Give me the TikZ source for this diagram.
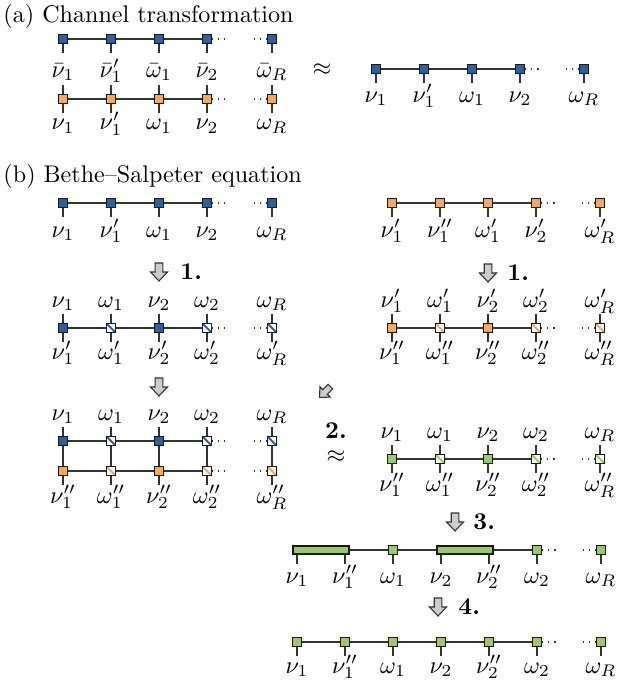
\documentclass[tikz,border=0pt]{standalone}
\usepackage{amsmath}
\definecolor{cblue}{RGB}{47,96,158}
\definecolor{corange}{RGB}{244,168,88}
\definecolor{cgreen}{RGB}{152,203,104}
\tikzset{
 sq/.style={rectangle, draw=black!90, line width=0.55pt, minimum size=3.8pt, inner sep=0pt},
 bsq/.style={sq, fill=cblue},
 osq/.style={sq, fill=corange},
 gsq/.style={sq, fill=cgreen},
 wsq/.style={sq, fill=white, path picture={\draw[#1, line width=0.8pt] ([shift={(0.3pt,-0.3pt)}]path picture bounding box.north west) -- ([shift={(-0.3pt,0.3pt)}]path picture bounding box.south east);}},
 wb/.style={wsq=cblue}, wo/.style={wsq=corange}, wg/.style={wsq=cgreen},
 ln/.style={draw=black!80, line width=0.5pt},
 dts/.style={ln, dotted},
 lbl/.style={anchor=base, inner sep=0pt},
 num/.style={anchor=base west, inner sep=0pt, font=\bfseries},
 gbar/.style={rectangle, draw=black!90, line width=0.55pt, fill=cgreen, inner sep=0pt, minimum height=3.2pt, minimum width=23.2pt},
 pics/darr/.style={code={\draw[fill=black!20, draw=black!80, line width=0.45pt] (-3.8,-9) -- (3.8,-9) -- (3.8,0) -- (8.5,0) -- (0,9) -- (-8.5,0) -- (-3.8,0) -- cycle;}},
}
\newcommand\mysqrow[3]{\foreach \x/\s [count=\i] in {#3} {\node[\s] (#1\i) at (\x,#2) {};}}
\newcommand\mylbrow[3]{\foreach \x/\t [count=\i] in {#3} {\node[lbl] (#1\i) at (\x,#2) {$\t$};}}
\newcommand\mytickdn[2]{\foreach \i in {1,...,#2} {\draw[ln] (#1\i.south) -- ++(0,9);}}
\newcommand\mytickup[2]{\foreach \i in {1,...,#2} {\draw[ln] (#1\i.north) -- ++(0,-9);}}
\newcommand\mychainfive[1]{\draw[ln] (#11) -- (#12) -- (#13) -- (#14);
 \draw[dts] (#14.east) -- ++(15,0); \draw[dts] (#15.west) -- ++(-15,0);}
\begin{document}
\begin{tikzpicture}[x=0.415pt,y=-0.415pt]
\useasboundingbox (0,0) rectangle (619,683);

% ---------------- (a)
\node[anchor=base west, inner sep=0pt] (ta) at (3,23) {(a) Channel transformation};
\mysqrow{ab}{39}{63/bsq,111/bsq,159/bsq,207/bsq,272/bsq}
\mychainfive{ab}
\mytickdn{ab}{5}
\mylbrow{abl}{77}{63/{\bar\nu_1},111/{\bar\nu'_1},159/{\bar\omega_1},207/{\bar\nu_2},272/{\bar\omega_R}}
\mysqrow{ao}{99}{63/osq,111/osq,159/osq,207/osq,272/osq}
\mychainfive{ao}
\mytickdn{ao}{5}
\mytickup{ao}{5}
\mylbrow{aol}{130}{63/{\nu_1},111/{\nu'_1},159/{\omega_1},207/{\nu_2},272/{\omega_R}}
\node (apx) at (322,70) {$\approx$};
\mysqrow{ar}{69}{376/bsq,424/bsq,472/bsq,520/bsq,584/bsq}
\mychainfive{ar}
\mytickdn{ar}{5}
\mylbrow{arl}{102}{376/{\nu_1},424/{\nu'_1},472/{\omega_1},520/{\nu_2},584/{\omega_R}}

% ---------------- (b)
\node[anchor=base west, inner sep=0pt] (tb) at (3,182) {(b) Bethe--Salpeter equation};
% left row 1
\mysqrow{la}{203}{63/bsq,111/bsq,159/bsq,207/bsq,272/bsq}
\mychainfive{la}
\mytickdn{la}{5}
\mylbrow{lal}{237}{63/{\nu_1},111/{\nu'_1},159/{\omega_1},207/{\nu_2},272/{\omega_R}}
% right row 1
\mysqrow{ra}{203}{392/osq,440/osq,488/osq,536/osq,600/osq}
\mychainfive{ra}
\mytickdn{ra}{5}
\mylbrow{ral}{237}{392/{\nu'_1},440/{\nu''_1},488/{\omega'_1},536/{\nu'_2},600/{\omega'_R}}
% step 1 arrows
\pic (pa) at (159,272) {darr};
\node[num] (na) at (180,279) {1.};
\pic (pb) at (488,273) {darr};
\node[num] (nb) at (507,280) {1.};
% left row 2
\mylbrow{lbu}{307}{63/{\nu_1},111/{\omega_1},159/{\nu_2},207/{\omega_2},272/{\omega_R}}
\mysqrow{lb}{328}{63/bsq,111/wb,159/bsq,207/wb,272/wb}
\mychainfive{lb}
\mytickdn{lb}{5}
\mytickup{lb}{5}
\mylbrow{lbd}{359}{63/{\nu'_1},111/{\omega'_1},159/{\nu'_2},207/{\omega'_2},272/{\omega'_R}}
% right row 2
\mylbrow{rbu}{307}{392/{\nu'_1},440/{\omega'_1},488/{\nu'_2},536/{\omega'_2},600/{\omega'_R}}
\mysqrow{rb}{328}{392/osq,440/wo,488/osq,536/wo,600/wo}
\mychainfive{rb}
\mytickdn{rb}{5}
\mytickup{rb}{5}
\mylbrow{rbd}{359}{392/{\nu''_1},440/{\omega''_1},488/{\nu''_2},536/{\omega''_2},600/{\omega''_R}}
% arrow down left, diagonal arrow
\pic (pc) at (159,387) {darr};
\pic[rotate=-45, scale=0.85] (pd) at (325,392) {darr};
% left ladder
\mylbrow{lcu}{420}{63/{\nu_1},111/{\omega_1},159/{\nu_2},207/{\omega_2},272/{\omega_R}}
\mysqrow{lc}{441}{63/bsq,111/wb,159/bsq,207/wb,272/wb}
\mysqrow{ld}{471}{63/osq,111/wo,159/osq,207/wo,272/wo}
\mychainfive{lc}
\mychainfive{ld}
\mytickup{lc}{5}
\mytickdn{ld}{5}
\foreach \i in {1,...,5} {\draw[ln] (lc\i) -- (ld\i);}
\mylbrow{ldd}{503}{63/{\nu''_1},111/{\omega''_1},159/{\nu''_2},207/{\omega''_2},272/{\omega''_R}}
% step 2
\node[anchor=base, inner sep=0pt, font=\bfseries] (n2) at (336,438) {2.};
\node[inner sep=0pt] (apx2) at (336,457) {$\approx$};
% green row
\mylbrow{gu}{438}{392/{\nu_1},440/{\omega_1},488/{\nu_2},536/{\omega_2},600/{\omega_R}}
\mysqrow{g}{459}{392/gsq,440/wg,488/gsq,536/wg,600/wg}
\mychainfive{g}
\mytickdn{g}{5}
\mytickup{g}{5}
\mylbrow{gd}{491}{392/{\nu''_1},440/{\omega''_1},488/{\nu''_2},536/{\omega''_2},600/{\omega''_R}}
% step 3
\pic (pe) at (455,522) {darr};
\node[num] (n3) at (473,529) {3.};
% bars row
\node[gbar] (k1) at (321,550) {};
\node[gsq] (k3) at (393,550) {};
\node[gbar] (k4) at (465,550) {};
\node[gsq] (k6) at (537,550) {};
\node[gsq] (k7) at (601,550) {};
\draw[ln] (k1) -- (k3) -- (k4) -- (k6);
\draw[dts] (k6.east) -- ++(15,0);
\draw[dts] (k7.west) -- ++(-15,0);
\mylbrow{kl}{583}{297/{\nu_1},345/{\nu''_1},393/{\omega_1},441/{\nu_2},489/{\nu''_2},537/{\omega_2},601/{\omega_R}}
\foreach \i in {1,2,4,5} {\draw[ln] (k1.south -| kl\i) -- ++(0,9);}
\foreach \i in {3,6,7} {\draw[ln] (k\i.south) -- ++(0,9);}
% step 4
\pic (pf) at (438,607) {darr};
\node[num] (n4) at (458,614) {4.};
% final row
\mysqrow{f}{642}{297/gsq,345/gsq,393/gsq,441/gsq,489/gsq,537/gsq,601/gsq}
\draw[ln] (f1) -- (f2) -- (f3) -- (f4) -- (f5) -- (f6);
\draw[dts] (f6.east) -- ++(15,0);
\draw[dts] (f7.west) -- ++(-15,0);
\mytickdn{f}{7}
\mylbrow{fl}{673}{297/{\nu_1},345/{\nu''_1},393/{\omega_1},441/{\nu_2},489/{\nu''_2},537/{\omega_2},601/{\omega_R}}
\end{tikzpicture}
\end{document}
